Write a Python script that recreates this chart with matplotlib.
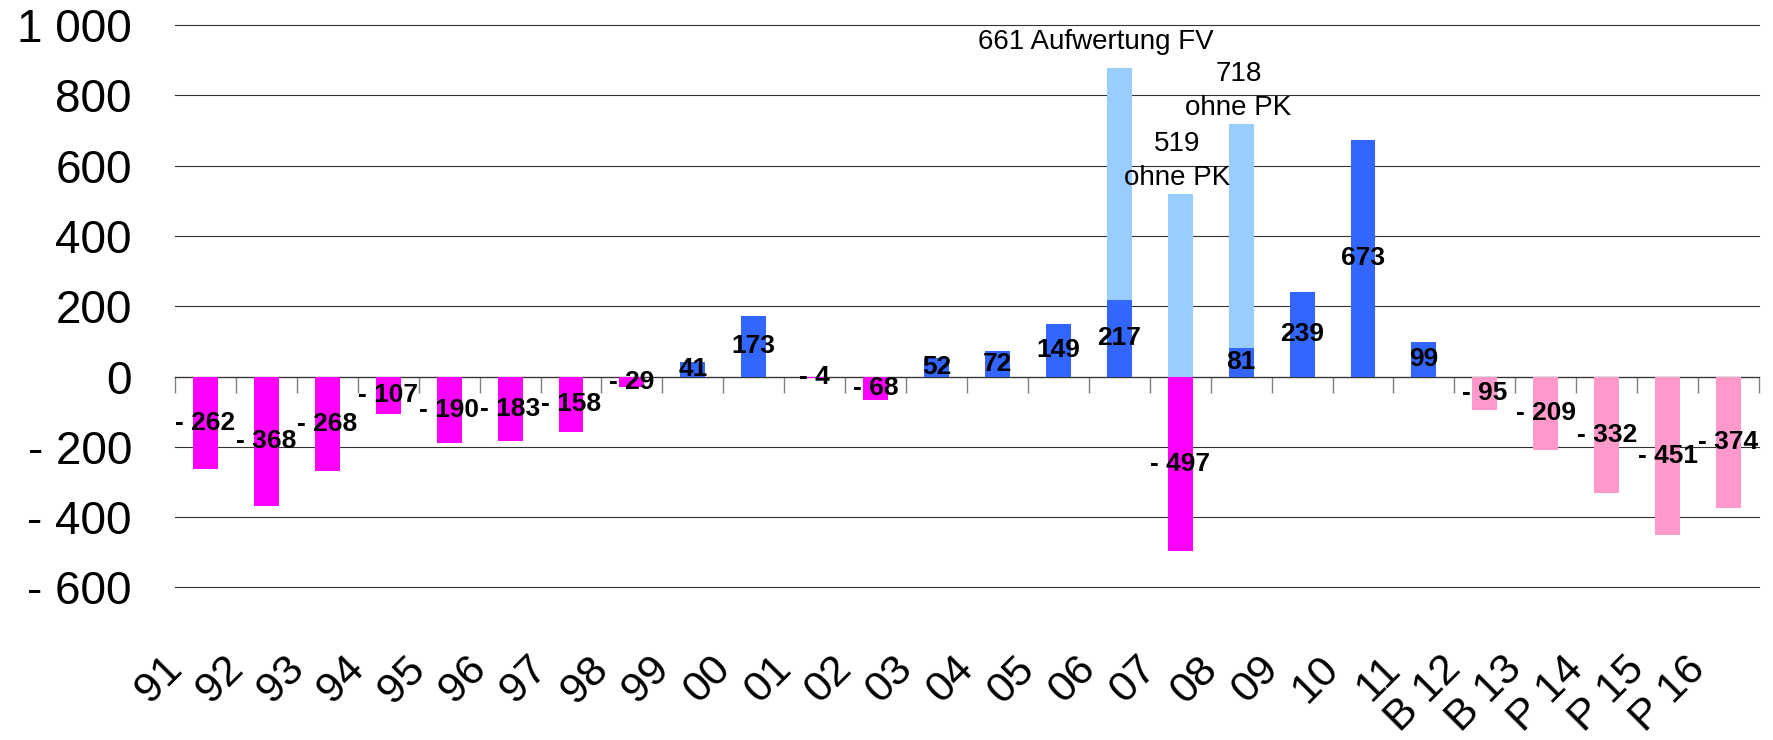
import matplotlib
matplotlib.use("Agg")
import matplotlib.pyplot as plt
import matplotlib.transforms as mtransforms
from matplotlib.ticker import FuncFormatter
import numpy as np

plt.rcParams['font.family'] = ['Liberation Sans', 'DejaVu Sans']

# data
categories = ['91', '92', '93', '94', '95', '96', '97', '98', '99', '00', '01', '02', '03',
              '04', '05', '06', '07', '08', '09', '10', '11', 'B 12', 'B 13', 'P 14', 'P 15', 'P 16']
result = [-262, -368, -268, -107, -190, -183, -158, -29, 41, 173, -4, -68, 52,
          72, 149, 217, -497, 81, 239, 673, 99, -95, -209, -332, -451, -374]
extra_cats = ['06', '07', '08']
extra_vals = [661, 519, 637]
extra_text = ['661 Aufwertung FV', '519\nohne PK', '718\nohne PK']

MAGENTA = '#FF00FF'
BLUE = '#3366FF'
LIGHT = '#99CCFF'
PINK = '#FF99CC'


def fmt(v, pos=None):
    s = f"{abs(int(round(v))):,}".replace(",", " ")
    return ("- " + s) if v < 0 else s


x = np.arange(len(categories))
colors = []
for c, v in zip(categories, result):
    if c[0] in 'BP':
        colors.append(PINK)
    elif v < 0:
        colors.append(MAGENTA)
    else:
        colors.append(BLUE)

fig = plt.figure(figsize=(17.73, 7.40), dpi=100)
ax = fig.add_axes([175 / 1773, (740 - 587.4) / 740, (1759 - 175) / 1773, (587.4 - 25) / 740])

w = 0.41
ax.bar(x, result, width=w, color=colors, zorder=2)

ex_x = [categories.index(c) for c in extra_cats]
ex_bottom = [max(result[i], 0) for i in ex_x]
ax.bar(ex_x, extra_vals, width=w, bottom=ex_bottom, color=LIGHT, zorder=2)

# value labels in the middle of the bars
for i, v in zip(x, result):
    ax.text(i, v / 2, fmt(v), ha='center', va='center', fontsize=19,
            fontweight='bold', color='black', zorder=4)

# notes on top of the light blue bars
for i, b, v, t in zip(ex_x, ex_bottom, extra_vals, extra_text):
    if '\n' in t:
        off = (-2, 2)
    else:
        off = (-17, 9)
    ax.annotate(t, xy=(i, b + v), xytext=off, textcoords='offset points',
                ha='center', va='bottom', fontsize=20, linespacing=1.4, zorder=4)

ax.set_xlim(-0.5, len(categories) - 0.5)
ax.set_ylim(-600, 1000)
ax.set_yticks(np.arange(-600, 1001, 200))
ax.yaxis.set_major_formatter(FuncFormatter(fmt))
ax.tick_params(axis='y', length=0, pad=31, labelsize=33)
ax.yaxis.grid(True, color='#333333', linewidth=0.8)
for gl in ax.get_ygridlines():
    gl.set_clip_on(False)
ax.set_axisbelow(True)
for s in ax.spines.values():
    s.set_visible(False)

ax.set_xticks(x)
ax.set_xticklabels(categories, rotation=45, ha='right', va='baseline',
                   rotation_mode='anchor', fontsize=31)
ax.tick_params(axis='x', length=0, pad=60)
shift = mtransforms.ScaledTranslation(-22 / 100, 0, fig.dpi_scale_trans)
for lbl in ax.get_xticklabels():
    lbl.set_transform(lbl.get_transform() + shift)

# category axis through zero with tick marks between the categories
y0, y1 = ax.get_ylim()
sec = ax.secondary_xaxis((0 - y0) / (y1 - y0))
sec.set_xticks(np.arange(len(categories) + 1) - 0.5)
sec.tick_params(axis='x', direction='out', length=11.5, width=1, color='#808080',
                labelbottom=False, labeltop=False)
for s in sec.spines.values():
    s.set_color('#808080')
    s.set_linewidth(1.0)

fig.savefig('out.png', dpi=100)
